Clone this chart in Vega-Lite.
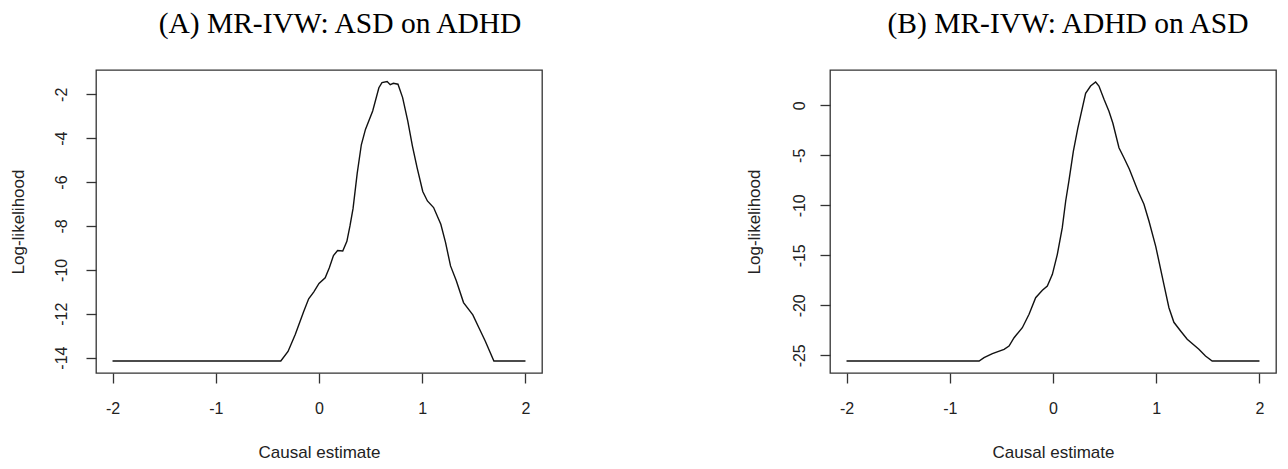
{
  "$schema": "https://vega.github.io/schema/vega-lite/v6.json",
  "autosize": {"type": "pad"},
  "padding": {"left": 8, "top": 7, "right": 0, "bottom": 0},
  "background": "white",
  "spacing": 288,
  "bounds": "flush",
  "config": {
    "view": {"stroke": "#333333", "strokeWidth": 1.3},
    "axis": {
      "grid": false,
      "domain": false,
      "ticks": true,
      "tickSize": 10,
      "tickColor": "#333333",
      "tickWidth": 1.3,
      "labelFont": "Liberation Sans",
      "labelFontSize": 16,
      "labelColor": "#222222",
      "labelExpr": "'' + datum.value",
      "titleFont": "Liberation Sans",
      "titleFontSize": 17,
      "titleFontWeight": "normal",
      "titleColor": "#222222"
    },
    "title": {
      "font": "Liberation Serif",
      "fontSize": 29.5,
      "fontWeight": "normal",
      "color": "#000000",
      "anchor": "middle",
      "frame": "group",
      "baseline": "alphabetic"
    }
  },
  "datasets": {
    "asd_on_adhd": [
      {"estimate": -2.0, "loglik": -14.15},
      {"estimate": -0.37, "loglik": -14.15},
      {"estimate": -0.30, "loglik": -13.72},
      {"estimate": -0.23, "loglik": -12.95},
      {"estimate": -0.15, "loglik": -11.92},
      {"estimate": -0.10, "loglik": -11.32},
      {"estimate": -0.05, "loglik": -11.0},
      {"estimate": 0.0, "loglik": -10.62},
      {"estimate": 0.06, "loglik": -10.36},
      {"estimate": 0.10, "loglik": -9.9},
      {"estimate": 0.14, "loglik": -9.35},
      {"estimate": 0.18, "loglik": -9.12},
      {"estimate": 0.23, "loglik": -9.14},
      {"estimate": 0.27, "loglik": -8.7},
      {"estimate": 0.30, "loglik": -8.0},
      {"estimate": 0.33, "loglik": -7.2},
      {"estimate": 0.37, "loglik": -5.6},
      {"estimate": 0.41, "loglik": -4.3},
      {"estimate": 0.45, "loglik": -3.6},
      {"estimate": 0.52, "loglik": -2.76},
      {"estimate": 0.58, "loglik": -1.7},
      {"estimate": 0.61, "loglik": -1.47},
      {"estimate": 0.66, "loglik": -1.42},
      {"estimate": 0.69, "loglik": -1.56},
      {"estimate": 0.72, "loglik": -1.5},
      {"estimate": 0.765, "loglik": -1.54},
      {"estimate": 0.81, "loglik": -2.15},
      {"estimate": 0.86, "loglik": -3.22},
      {"estimate": 0.905, "loglik": -4.36},
      {"estimate": 0.95, "loglik": -5.34},
      {"estimate": 1.005, "loglik": -6.43},
      {"estimate": 1.05, "loglik": -6.86},
      {"estimate": 1.11, "loglik": -7.16},
      {"estimate": 1.18, "loglik": -7.92},
      {"estimate": 1.226, "loglik": -8.76},
      {"estimate": 1.274, "loglik": -9.82},
      {"estimate": 1.33, "loglik": -10.5},
      {"estimate": 1.40, "loglik": -11.49},
      {"estimate": 1.49, "loglik": -12.05},
      {"estimate": 1.55, "loglik": -12.65},
      {"estimate": 1.61, "loglik": -13.24},
      {"estimate": 1.694, "loglik": -14.15},
      {"estimate": 2.0, "loglik": -14.15}
    ],
    "adhd_on_asd": [
      {"estimate": -2.0, "loglik": -25.57},
      {"estimate": -0.716, "loglik": -25.57},
      {"estimate": -0.668, "loglik": -25.24},
      {"estimate": -0.587, "loglik": -24.84},
      {"estimate": -0.474, "loglik": -24.4},
      {"estimate": -0.426, "loglik": -24.07},
      {"estimate": -0.377, "loglik": -23.24},
      {"estimate": -0.297, "loglik": -22.24},
      {"estimate": -0.232, "loglik": -20.9},
      {"estimate": -0.168, "loglik": -19.24},
      {"estimate": -0.103, "loglik": -18.5},
      {"estimate": -0.055, "loglik": -18.07},
      {"estimate": -0.006, "loglik": -16.9},
      {"estimate": 0.042, "loglik": -14.9},
      {"estimate": 0.09, "loglik": -12.24},
      {"estimate": 0.123, "loglik": -9.57},
      {"estimate": 0.155, "loglik": -7.5},
      {"estimate": 0.197, "loglik": -4.6},
      {"estimate": 0.24, "loglik": -2.3},
      {"estimate": 0.268, "loglik": -1.0},
      {"estimate": 0.316, "loglik": 1.2},
      {"estimate": 0.364, "loglik": 1.93},
      {"estimate": 0.413, "loglik": 2.33},
      {"estimate": 0.445, "loglik": 1.93},
      {"estimate": 0.494, "loglik": 0.6},
      {"estimate": 0.542, "loglik": -0.6},
      {"estimate": 0.58, "loglik": -1.8},
      {"estimate": 0.639, "loglik": -4.24},
      {"estimate": 0.687, "loglik": -5.24},
      {"estimate": 0.74, "loglik": -6.4},
      {"estimate": 0.82, "loglik": -8.5},
      {"estimate": 0.881, "loglik": -9.9},
      {"estimate": 0.93, "loglik": -11.6},
      {"estimate": 0.995, "loglik": -14.1},
      {"estimate": 1.074, "loglik": -17.9},
      {"estimate": 1.123, "loglik": -20.24},
      {"estimate": 1.171, "loglik": -21.7},
      {"estimate": 1.236, "loglik": -22.57},
      {"estimate": 1.3, "loglik": -23.4},
      {"estimate": 1.413, "loglik": -24.4},
      {"estimate": 1.477, "loglik": -25.07},
      {"estimate": 1.542, "loglik": -25.57},
      {"estimate": 2.0, "loglik": -25.57}
    ]
  },
  "hconcat": [
    {
      "title": {"text": "(A) MR-IVW: ASD on ADHD", "dx": 21, "offset": 31},
      "width": 446,
      "height": 303,
      "data": {"name": "asd_on_adhd"},
      "mark": {"type": "line", "color": "#111111", "strokeWidth": 1.4},
      "encoding": {
        "x": {
          "field": "estimate",
          "type": "quantitative",
          "scale": {"domain": [-2.16, 2.16], "nice": false, "zero": false},
          "axis": {
            "title": "Causal estimate",
            "values": [-2, -1, 0, 1, 2],
            "labelBaseline": "alphabetic",
            "labelPadding": 30,
            "titleX": 223,
            "titleY": 79,
            "titleBaseline": "middle",
            "titleAlign": "center"
          }
        },
        "y": {
          "field": "loglik",
          "type": "quantitative",
          "scale": {"domain": [-14.70, -0.893], "nice": false, "zero": false},
          "axis": {
            "title": "Log-likelihood",
            "values": [-14, -12, -10, -8, -6, -4, -2],
            "labelAngle": 270,
            "labelAlign": "center",
            "labelBaseline": "alphabetic",
            "labelPadding": 20,
            "titleAngle": 270,
            "titleX": -78,
            "titleY": 151.5,
            "titleBaseline": "middle",
            "titleAlign": "center"
          }
        }
      }
    },
    {
      "title": {"text": "(B) MR-IVW: ADHD on ASD", "dx": 15, "offset": 31},
      "width": 446,
      "height": 303,
      "data": {"name": "adhd_on_asd"},
      "mark": {"type": "line", "color": "#111111", "strokeWidth": 1.4},
      "encoding": {
        "x": {
          "field": "estimate",
          "type": "quantitative",
          "scale": {"domain": [-2.16, 2.16], "nice": false, "zero": false},
          "axis": {
            "title": "Causal estimate",
            "values": [-2, -1, 0, 1, 2],
            "labelBaseline": "alphabetic",
            "labelPadding": 30,
            "titleX": 223,
            "titleY": 79,
            "titleBaseline": "middle",
            "titleAlign": "center"
          }
        },
        "y": {
          "field": "loglik",
          "type": "quantitative",
          "scale": {"domain": [-26.77, 3.53], "nice": false, "zero": false},
          "axis": {
            "title": "Log-likelihood",
            "values": [-25, -20, -15, -10, -5, 0],
            "labelAngle": 270,
            "labelAlign": "center",
            "labelBaseline": "alphabetic",
            "labelPadding": 16,
            "titleAngle": 270,
            "titleX": -76,
            "titleY": 151.5,
            "titleBaseline": "middle",
            "titleAlign": "center"
          }
        }
      }
    }
  ]
}
